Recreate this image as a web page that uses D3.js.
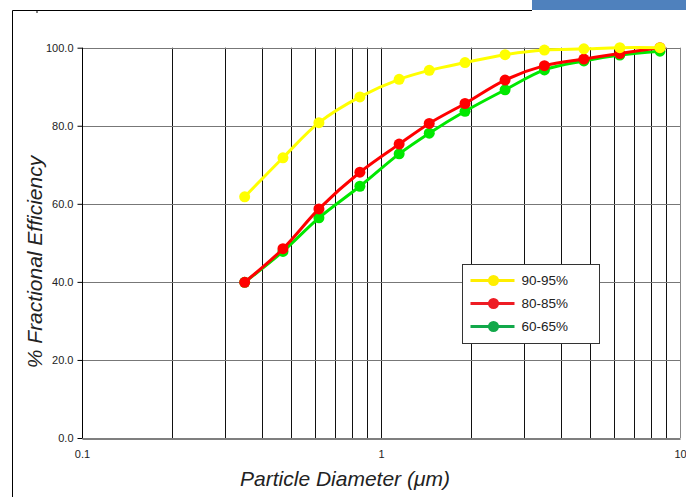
<!DOCTYPE html>
<html>
<head>
<meta charset="utf-8">
<script src="https://cdn.jsdelivr.net/npm/d3@7"></script>
<style>
  body { margin: 0; background: #fff; }
  svg { display: block; font-family: "Liberation Sans", Arial, sans-serif; }
</style>
</head>
<body>
<div id="chart"></div>
<script>
// particle diameters (um)
var diameters = [0.35, 0.47, 0.62, 0.85, 1.15, 1.45, 1.91, 2.6, 3.52, 4.77, 6.29, 8.57];

// fractional efficiency (%) for each series
var eff9095 = [61.8, 71.8, 80.8, 87.4, 91.9, 94.2, 96.2, 98.2, 99.4, 99.7, 100.0, 100.0];
var eff8085 = [39.9, 48.5, 58.7, 68.1, 75.3, 80.6, 85.7, 91.7, 95.4, 97.1, 98.5, 100.0];
var eff6065 = [39.9, 47.8, 56.4, 64.5, 72.8, 78.1, 83.7, 89.2, 94.3, 96.6, 98.1, 99.1];

var seriesNames = ["90-95%", "80-85%", "60-65%"];
var yTicks = [0, 20, 40, 60, 80, 100];
var xLabels = [0.1, 1, 10];

var svgWidth = 686;
var svgHeight = 497;

var svg = d3.select("#chart")
  .append("svg")
  .attr("width", svgWidth)
  .attr("height", svgHeight);

// outer frame and the blue strip at top right
svg.append("path")
  .attr("d", "M12.5,497 L12.5,10.5 L532,10.5")
  .attr("fill", "none")
  .attr("stroke", "#000")
  .attr("stroke-width", 1);
svg.append("rect")
  .attr("x", 532).attr("y", 0)
  .attr("width", 154).attr("height", 10)
  .attr("fill", "#4f81bd");
svg.append("line")
  .attr("x1", 37).attr("x2", 37).attr("y1", 11).attr("y2", 13)
  .attr("stroke", "#000");

var xScale = d3.scaleLog()
  .domain([0.1, 10])
  .range([82, 680]);

var yScale = d3.scaleLinear()
  .domain([0, 100])
  .range([438, 47.7]);

// vertical log grid
var xGrid = [];
[0.1, 1].forEach(function(dec) {
  for (var k = 2; k <= 9; k++) xGrid.push(dec * k);
});
xGrid.push(1);

svg.append("g")
  .selectAll("line")
  .data(xGrid)
  .enter()
  .append("line")
  .attr("x1", d => Math.round(xScale(d)) + 0.5)
  .attr("x2", d => Math.round(xScale(d)) + 0.5)
  .attr("y1", yScale(100))
  .attr("y2", yScale(0))
  .attr("stroke", "#111")
  .attr("stroke-width", 1);

// horizontal grid
svg.append("g")
  .selectAll("line")
  .data(yTicks.filter(d => d > 0))
  .enter()
  .append("line")
  .attr("x1", xScale(0.1))
  .attr("x2", xScale(10))
  .attr("y1", d => Math.round(yScale(d)) + 0.5)
  .attr("y2", d => Math.round(yScale(d)) + 0.5)
  .attr("stroke", "#777")
  .attr("stroke-width", 1);

// right border
svg.append("line")
  .attr("x1", Math.round(xScale(10)) + 0.5)
  .attr("x2", Math.round(xScale(10)) + 0.5)
  .attr("y1", yScale(100))
  .attr("y2", yScale(0))
  .attr("stroke", "#888");

// y axis
var yAxis = d3.axisLeft(yScale)
  .tickValues(yTicks)
  .tickSize(5)
  .tickPadding(4)
  .tickFormat(d3.format(".1f"));

var yG = svg.append("g")
  .attr("transform", `translate(${Math.round(xScale(0.1)) + 0.5},0)`)
  .call(yAxis);
yG.select(".domain").attr("stroke", "#000").attr("d", `M0,${yScale(100)}V${yScale(0)}`);
yG.selectAll("text").attr("font-size", "11px").attr("fill", "#222")
  .style("font-family", "Liberation Sans, Arial, sans-serif");

// x axis
var xAxis = d3.axisBottom(xScale)
  .tickValues(xLabels)
  .tickSize(0)
  .tickPadding(12)
  .tickFormat(d3.format("~g"));

var xG = svg.append("g")
  .attr("transform", `translate(0,${Math.round(yScale(0)) + 0.5})`)
  .call(xAxis);
xG.select(".domain").attr("stroke", "#000").attr("stroke-width", 1.2);
xG.selectAll("text").attr("font-size", "11px").attr("fill", "#222")
  .style("font-family", "Liberation Sans, Arial, sans-serif");

// series
var seriesData = [
  { name: seriesNames[2], values: eff6065, color: "#00e800", legendColor: "#12a84a" },
  { name: seriesNames[1], values: eff8085, color: "#ff0000", legendColor: "#ee1c24" },
  { name: seriesNames[0], values: eff9095, color: "#ffff00", legendColor: "#ffee00" }
];

var line = d3.line()
  .x(d => xScale(d[0]))
  .y(d => yScale(d[1]))
  .curve(d3.curveCatmullRom.alpha(0.5));

seriesData.forEach(function(s) {
  var pts = diameters.map((d, i) => [d, s.values[i]]);
  svg.append("path")
    .datum(pts)
    .attr("d", line)
    .attr("fill", "none")
    .attr("stroke", s.color)
    .attr("stroke-width", 3);
  svg.append("g")
    .selectAll("circle")
    .data(pts)
    .enter()
    .append("circle")
    .attr("cx", d => xScale(d[0]))
    .attr("cy", d => yScale(d[1]))
    .attr("r", 5.5)
    .attr("fill", s.color);
});

// legend
var legend = svg.append("g").attr("transform", "translate(462.5,264.5)");
legend.append("rect")
  .attr("width", 137)
  .attr("height", 79)
  .attr("fill", "#fff")
  .attr("stroke", "#333");

var legendItems = legend.selectAll(".item")
  .data(seriesData.slice().reverse())
  .enter()
  .append("g")
  .attr("transform", (d, i) => `translate(0,${16 + i * 23})`);

legendItems.append("line")
  .attr("x1", 8).attr("x2", 52)
  .attr("stroke", d => d.legendColor)
  .attr("stroke-width", 3);
legendItems.append("circle")
  .attr("cx", 31)
  .attr("r", 5.5)
  .attr("fill", d => d.legendColor);
legendItems.append("text")
  .attr("x", 59)
  .attr("dy", "0.36em")
  .attr("font-size", "13.5px")
  .attr("fill", "#222")
  .text(d => d.name);

// axis titles
svg.append("text")
  .attr("transform", "translate(42,262) rotate(-90)")
  .attr("text-anchor", "middle")
  .attr("font-size", "21px")
  .attr("font-style", "italic")
  .attr("fill", "#222")
  .text("% Fractional Efficiency");

svg.append("text")
  .attr("x", 345)
  .attr("y", 486)
  .attr("text-anchor", "middle")
  .attr("font-size", "21px")
  .attr("font-style", "italic")
  .attr("fill", "#222")
  .text("Particle Diameter (μm)");
</script>
</body>
</html>
